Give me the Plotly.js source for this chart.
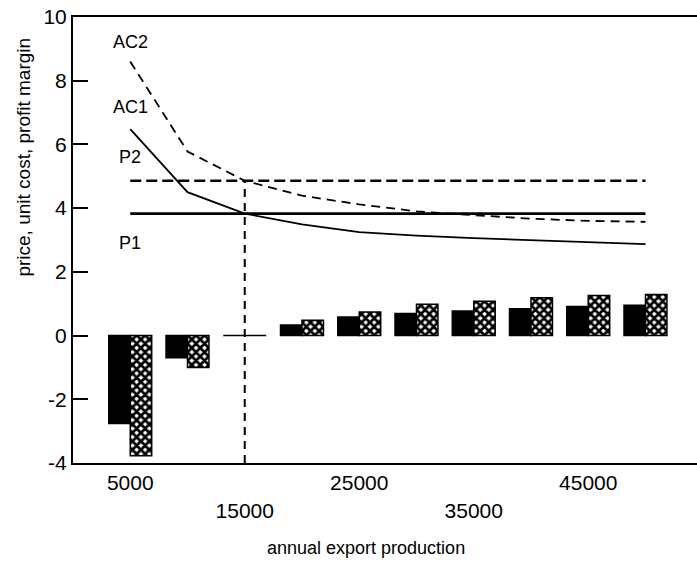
<!DOCTYPE html>
<html>
<head>
<meta charset="utf-8">
<script src="https://cdn.plot.ly/plotly-3.0.1.min.js"></script>
<style>html,body{margin:0;padding:0;background:#fff;}</style>
</head>
<body>
<div id="chart" style="width:697px;height:566px;"></div>
<script>
// annual export production
const production = [5000, 10000, 15000, 20000, 25000, 30000, 35000, 40000, 45000, 50000];
// average unit costs
const ac1 = [6.48, 4.50, 3.83, 3.49, 3.25, 3.14, 3.06, 2.99, 2.92, 2.87];
const ac2 = [8.60, 5.78, 4.86, 4.39, 4.12, 3.90, 3.78, 3.67, 3.60, 3.57];
// prices
const p1 = 3.83;
const p2 = 4.86;
// profit margins
const margin1 = [-2.76, -0.70, 0, 0.33, 0.58, 0.69, 0.77, 0.84, 0.91, 0.95];
const margin2 = [-3.77, -1.00, 0, 0.48, 0.74, 0.98, 1.08, 1.19, 1.26, 1.29];
// break-even production
const breakEven = 15000;
// axis ticks
const xTickVals = [5000, 15000, 25000, 35000, 45000];
const xTickText = ["5000", "<br>15000", "25000", "<br>35000", "45000"];
const yTickVals = [-4, -2, 0, 2, 4, 6, 8, 10];
const yTickText = ["-4", "-2", "0", "2", "4", "6", "8", "10"];
// curve labels
const labelText = ["AC2", "AC1", "P2", "P1"];
const labelY = [9.2, 7.17, 5.6, 2.9];

const FONT = "Liberation Sans, Arial, sans-serif";

const traces = [
  {type: "bar", x: production, y: margin1, name: "margin 1",
   marker: {color: "#000", line: {color: "#000", width: 1.5}}},
  {type: "bar", x: production, y: margin2, name: "margin 2",
   marker: {color: "#fff", line: {color: "#000", width: 1.5},
            pattern: {shape: "x", fgcolor: "#000", bgcolor: "#fff", size: 6, solidity: 0.7}}},
  {type: "scatter", mode: "lines", x: production, y: ac1, line: {color: "#000", width: 1.8}},
  {type: "scatter", mode: "lines", x: production, y: ac2, line: {color: "#000", width: 1.8, dash: "9px,6px"}},
  {type: "scatter", mode: "lines", x: production, y: production.map(() => p1), line: {color: "#000", width: 2.8}},
  {type: "scatter", mode: "lines", x: production, y: production.map(() => p2), line: {color: "#000", width: 2.6, dash: "11px,5px"}},
  {type: "scatter", mode: "lines", x: [breakEven, breakEven], y: [-4, p2], line: {color: "#000", width: 2, dash: "8px,6px"}}
];

const annotations = labelText.map((t, i) => ({
  x: 5000, y: labelY[i], xref: "x", yref: "y", text: t, showarrow: false,
  xanchor: "center", yanchor: "middle", font: {family: FONT, size: 18, color: "#000"}
}));
annotations.push({
  xref: "paper", yref: "paper", x: 0.47, y: -0.19, yanchor: "middle",
  text: "annual export production", showarrow: false,
  font: {family: FONT, size: 18, color: "#000"}
});
annotations.push({
  xref: "paper", yref: "paper", x: -0.08, y: 0.685, xanchor: "center", yanchor: "middle",
  text: "price, unit cost, profit margin", showarrow: false, textangle: -90,
  font: {family: FONT, size: 19, color: "#000"}
});

const layout = {
  width: 697, height: 566,
  margin: {l: 73, r: 0, t: 17, b: 103},
  paper_bgcolor: "#fff", plot_bgcolor: "#fff",
  showlegend: false,
  barmode: "group", bargap: 0.25, bargroupgap: 0,
  font: {family: FONT, color: "#000"},
  xaxis: {
    range: [0, 54500], showgrid: false, zeroline: false,
    showline: true, linecolor: "#000", linewidth: 2, mirror: true,
    tickmode: "array", tickvals: xTickVals, ticktext: xTickText,
    ticks: "", tickfont: {family: FONT, size: 21, color: "#000"}
  },
  yaxis: {
    range: [-4, 10], showgrid: false, zeroline: false,
    showline: true, linecolor: "#000", linewidth: 2, mirror: false,
    tickmode: "array", tickvals: yTickVals, ticktext: yTickText,
    ticks: "inside", ticklen: 15, tickwidth: 2, tickcolor: "#000",
    tickfont: {family: FONT, size: 21, color: "#000"}
  },
  annotations: annotations
};

Plotly.newPlot("chart", traces, layout, {displayModeBar: false, staticPlot: true});
</script>
</body>
</html>
